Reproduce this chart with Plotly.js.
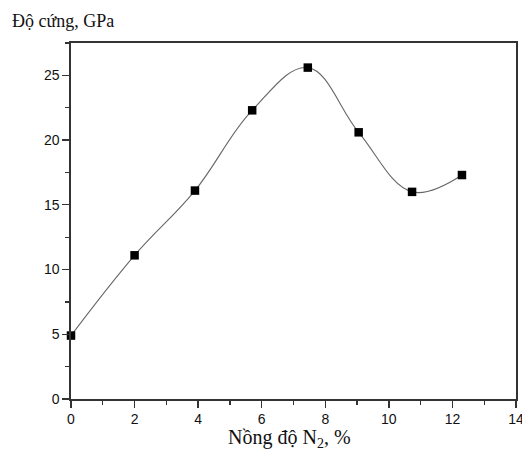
<!DOCTYPE html>
<html><head><meta charset="utf-8">
<script src="https://cdn.plot.ly/plotly-3.0.1.min.js"></script>
<style>html,body{margin:0;padding:0;background:#fff;overflow:hidden}#c{width:522px;height:450px}</style>
</head><body><div id="c"></div>
<script>
const nitrogen = [0, 2.0, 3.9, 5.7, 7.45, 9.05, 10.73, 12.3];
const hardness = [4.9, 11.1, 16.1, 22.3, 25.6, 20.6, 16.0, 17.3];
const xTicks = [0, 2, 4, 6, 8, 10, 12, 14];
const yTicks = [0, 5, 10, 15, 20, 25];

const trace = {
  x: nitrogen, y: hardness, type: 'scatter', mode: 'lines+markers',
  line: {shape: 'spline', smoothing: 1.1, color: '#666', width: 1.1},
  marker: {symbol: 'square', size: 8.5, color: '#000'},
  cliponaxis: false, hoverinfo: 'none'
};
const tickFont = {family: 'Liberation Sans, Arial, sans-serif', size: 14, color: '#111'};
const serif = 'Liberation Serif, Times New Roman, serif';
const layout = {
  width: 522, height: 450,
  margin: {l: 71, r: 6, t: 43, b: 51},
  paper_bgcolor: '#fff', plot_bgcolor: '#fff',
  showlegend: false,
  xaxis: {
    range: [0, 14], tickvals: xTicks, ticktext: xTicks.map(String),
    ticks: 'outside', ticklen: 7, tickwidth: 1.3, tickcolor: '#333',
    showline: true, linecolor: '#333', linewidth: 1.6, mirror: true,
    showgrid: false, zeroline: false, tickfont: tickFont,
    ticklabeloverflow: 'allow', automargin: false,
    minor: {dtick: 1, ticks: 'outside', ticklen: 4, tickcolor: '#333', tickwidth: 1.3, showgrid: false}
  },
  yaxis: {
    range: [0, 27.5], tickvals: yTicks, ticktext: yTicks.map(String),
    ticks: 'outside', ticklen: 7, tickwidth: 1.3, tickcolor: '#333',
    showline: true, linecolor: '#333', linewidth: 1.6, mirror: true,
    showgrid: false, zeroline: false, tickfont: tickFont, automargin: false,
    minor: {dtick: 2.5, ticks: 'outside', ticklen: 4, tickcolor: '#333', tickwidth: 1.3, showgrid: false}
  },
  annotations: [{
    text: 'Độ cứng, GPa', xref: 'paper', yref: 'paper', x: -0.137, y: 1.062,
    xanchor: 'left', yanchor: 'middle', showarrow: false,
    font: {family: serif, size: 18, color: '#111'}
  }, {
    text: 'Nồng độ N<sub>2</sub>, %', xref: 'paper', yref: 'paper', x: 0.491, y: -0.112,
    xanchor: 'center', yanchor: 'middle', showarrow: false,
    font: {family: serif, size: 20, color: '#111'}
  }]
};
Plotly.newPlot('c', [trace], layout, {displayModeBar: false, staticPlot: true});
</script></body></html>
